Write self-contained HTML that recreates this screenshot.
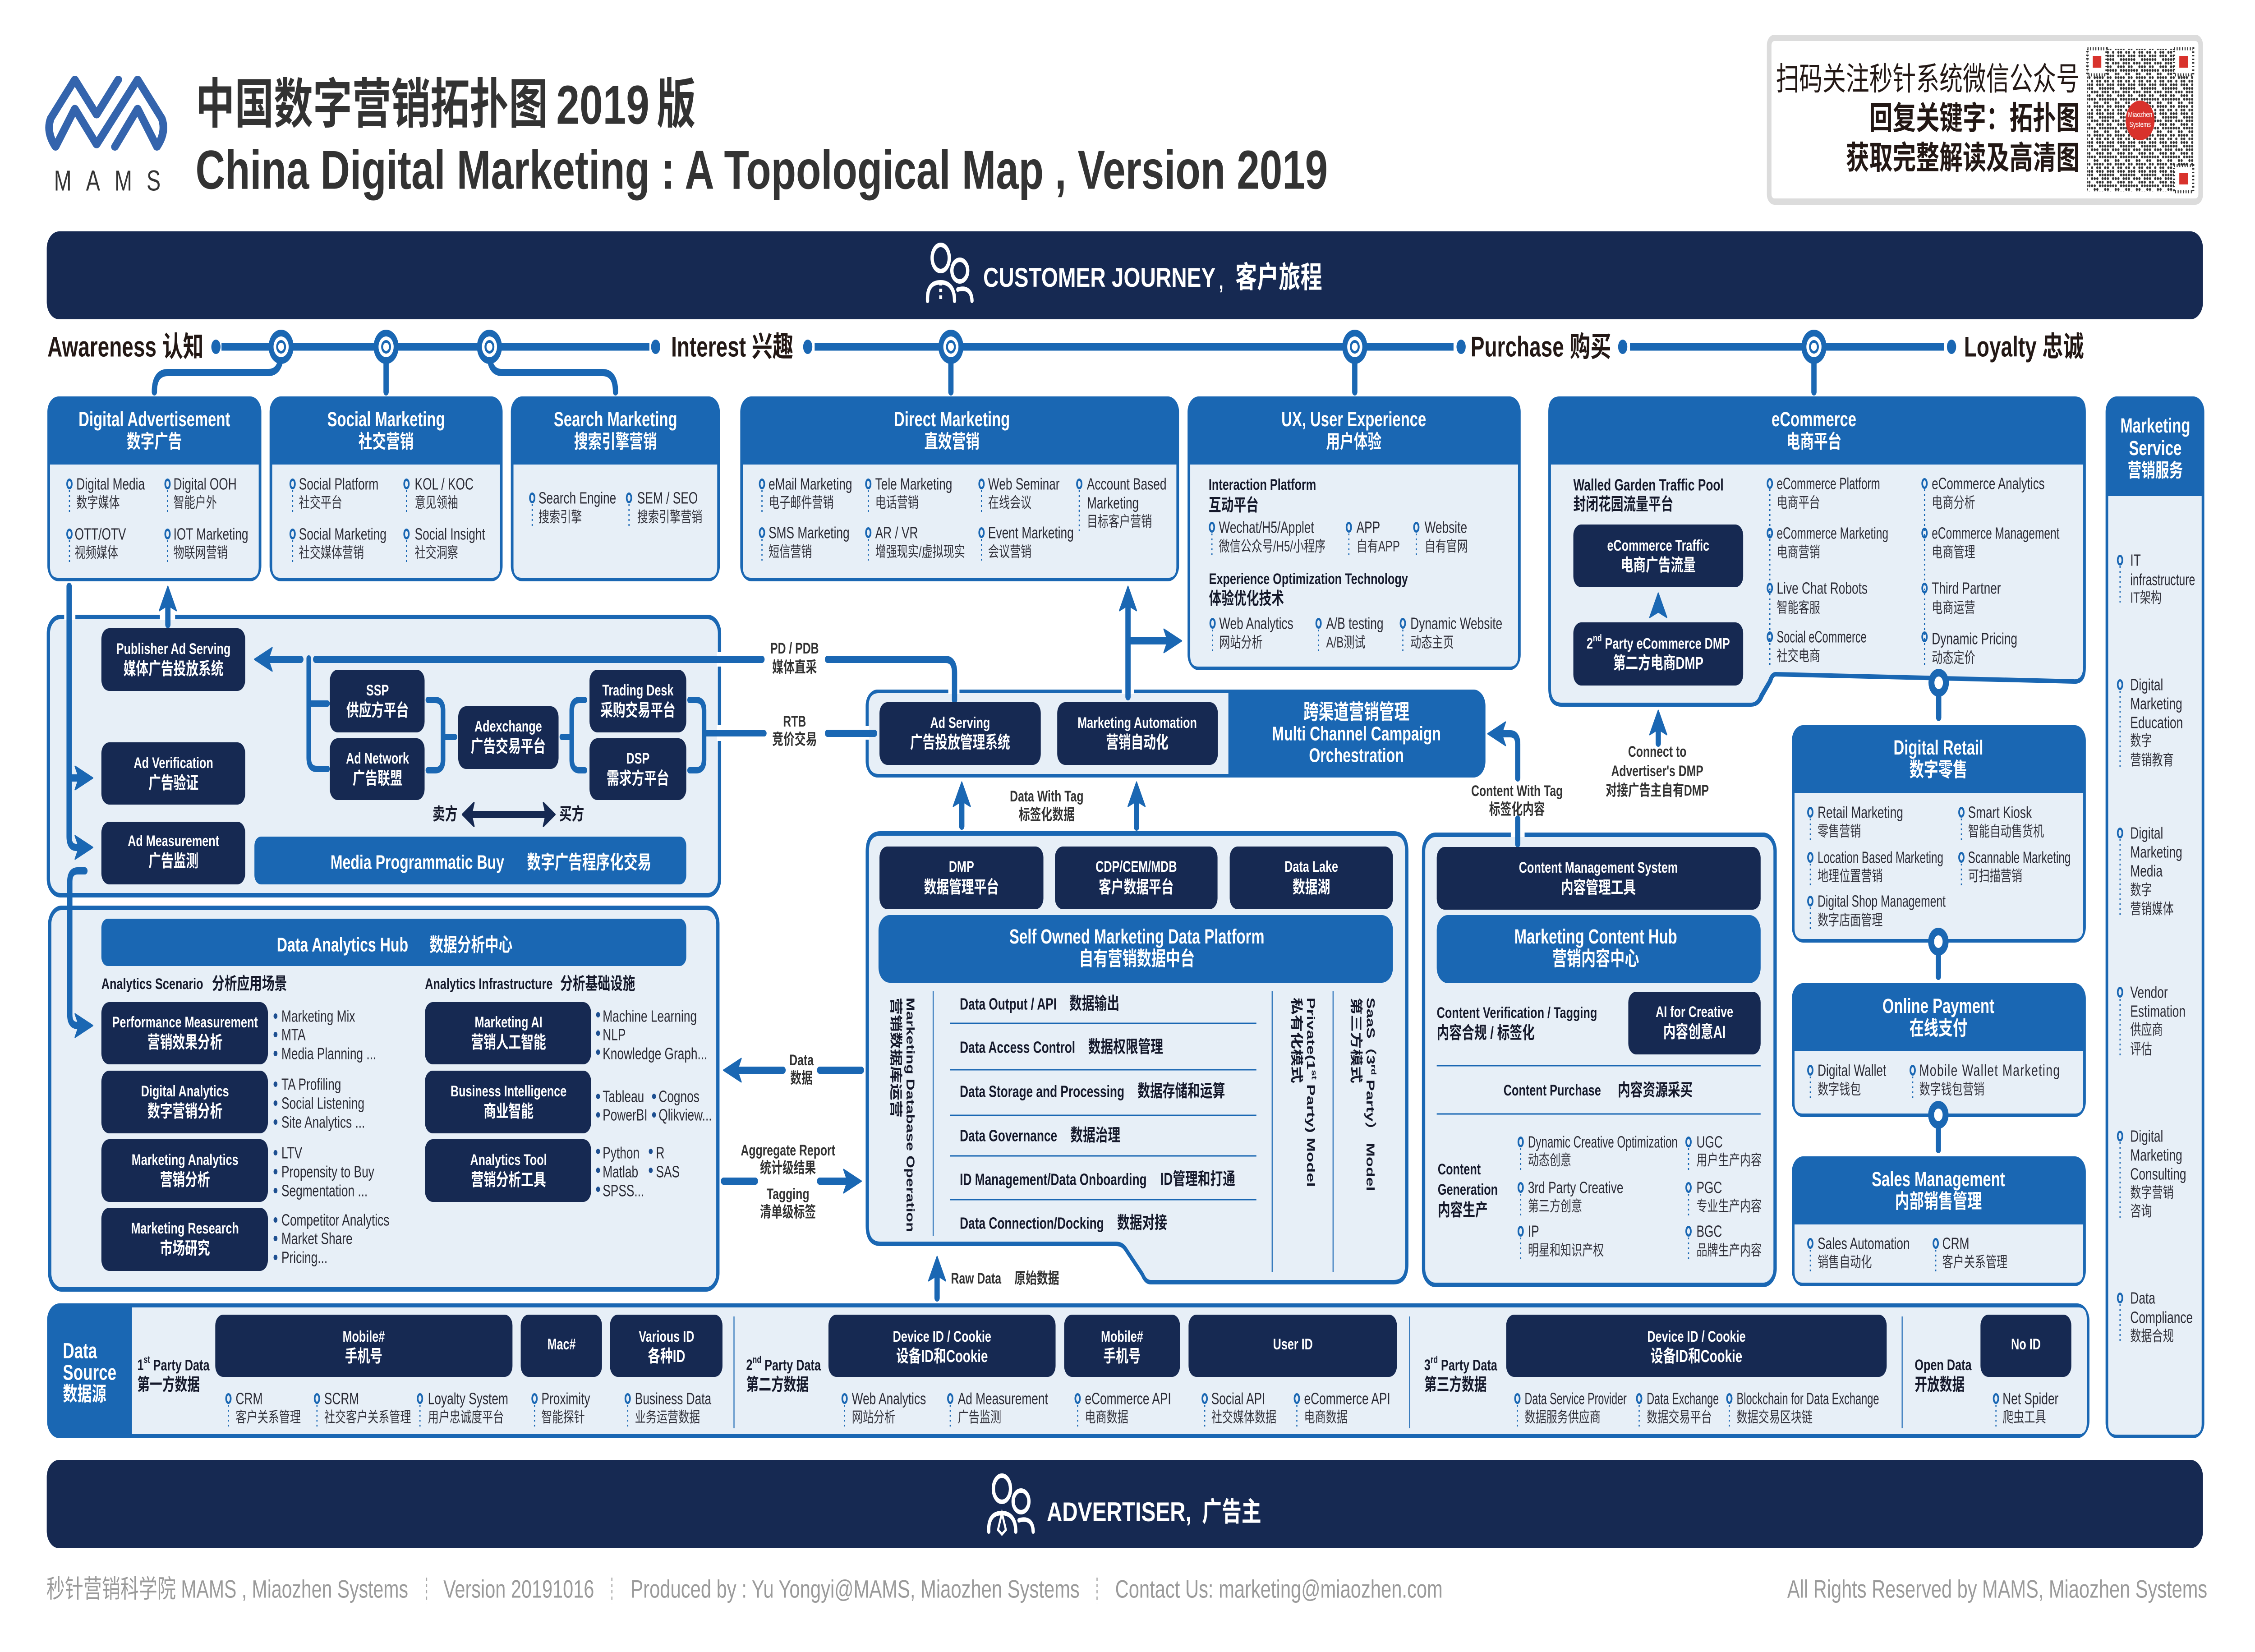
<!DOCTYPE html>
<html><head><meta charset="utf-8"><title>China Digital Marketing Topological Map 2019</title>
<style>
html,body{margin:0;padding:0;background:#fff;width:100%;height:100%;overflow:hidden}
svg{display:block;width:100vw;height:100vh}
text{font-family:"Liberation Sans","Noto Sans CJK SC",sans-serif;dominant-baseline:central;font-size:36px;fill:#2b2b35}
.c{font-size:33px;fill:#33333c}
.w{fill:#fff;font-weight:700;text-anchor:middle;font-size:34.5px}
.wc{fill:#fff;font-weight:700;text-anchor:middle;font-size:38px}
.h{fill:#fff;font-weight:700;text-anchor:middle;font-size:45px}
.hc{fill:#fff;font-weight:700;text-anchor:middle;font-size:42px}
.k{font-weight:700;fill:#15192b;font-size:34.6px}
.kc{font-weight:700;fill:#15192b;font-size:38px}
.g{font-weight:700;fill:#333;font-size:34px;text-anchor:middle}
.j{font-weight:700;fill:#231815;font-size:63px}
.f{fill:#9a9a9a;font-size:56px}
.l{fill:none;stroke:#1a67b3;stroke-width:16;stroke-linecap:round;stroke-linejoin:round}
.t{fill:none;stroke:#1a67b3;stroke-width:14;stroke-linecap:round}
.n{fill:#162952}
.b{fill:#1a67b3}
.p{fill:#e7eff7}
.q{fill:#e7eff7;stroke:#1a67b3;stroke-width:10}
.s{stroke:#1a67b3;stroke-width:3;fill:none}
.dl{stroke:#1a67b3;stroke-width:3.5;stroke-dasharray:4 7;fill:none}
.u{fill:#1d4f91}
</style></head><body>
<svg xmlns="http://www.w3.org/2000/svg" viewBox="0 0 6851 3663" preserveAspectRatio="none">
<defs>
<g id="e"><ellipse rx="7" ry="9.5" fill="none" stroke="#1a67b3" stroke-width="5"/></g>
<g id="d"><path class="dl" d="M0 14V66"/><ellipse rx="7" ry="9.5" fill="none" stroke="#1a67b3" stroke-width="5"/></g>
<polygon id="a" points="0,0 26,54 0,42 -26,54" fill="#1a67b3" stroke="#1a67b3" stroke-width="3" stroke-linejoin="round"/>
<g id="o"><circle r="38" fill="#1a67b3"/><circle r="23" fill="#fff"/><circle r="15" fill="#1a67b3"/><circle r="9" fill="#fff"/></g>
<g id="v"><circle r="31" fill="#1a67b3"/><ellipse rx="13" ry="14" fill="#fff"/></g>
<pattern id="qr" width="64" height="64" patternUnits="userSpaceOnUse">
<g fill="none" stroke="#333" stroke-width="6.5" stroke-linecap="round">
<path d="M4 4H64" stroke-dasharray="0 8 0 8 0 24"/><path d="M4 12H64" stroke-dasharray="0 16 0 8 0 8"/>
<path d="M4 20H64" stroke-dasharray="0 8 0 24 0 8"/><path d="M4 28H64" stroke-dasharray="0 8 0 8 0 8 0 16"/>
<path d="M4 36H64" stroke-dasharray="0 24 0 8"/><path d="M4 44H64" stroke-dasharray="0 8 0 16 0 8 0 8"/>
<path d="M4 52H64" stroke-dasharray="0 16 0 16 0 8"/><path d="M4 60H64" stroke-dasharray="0 8 0 8 0 16"/>
</g></pattern>
<g id="fp"><rect x="-29" y="-29" width="58" height="58" fill="#fff" stroke="#333" stroke-width="7" stroke-dasharray="3 5"/><rect x="-13" y="-13" width="26" height="26" fill="#d8322c"/></g>
<g id="ic" fill="none" stroke="#fff" stroke-width="10" stroke-linecap="round">
<ellipse cx="0" cy="0" rx="26" ry="29"/><circle cx="58" cy="28" r="24"/>
<path d="M-40 95C-42 60 -20 54 0 54C24 54 42 66 42 95"/><path d="M52 70C80 64 94 74 95 95"/>
</g>
</defs>

<!-- logo -->
<path d="M238 378L285 280L325 378Q345 340 335 305L285 205L200 372L155 280L115 378Q95 340 105 305L155 205L200 295L245 205" transform="scale(1.467 .861)" fill="none" stroke="#3464ad" stroke-width="17" stroke-linejoin="round" stroke-linecap="round" vector-effect="non-scaling-stroke"/>
<text x="164" y="400" textLength="324" lengthAdjust="spacing" style="font-size:64px;fill:#333">MAMS</text>

<!-- title -->
<text x="594" y="232" style="font-size:119px;font-weight:700;fill:#333">中国数字营销拓扑图</text>
<text x="1690" y="232" textLength="283" lengthAdjust="spacingAndGlyphs" style="font-size:122px;font-weight:700;fill:#333">2019</text>
<text x="1995" y="232" style="font-size:119px;font-weight:700;fill:#333">版</text>
<text x="594" y="376" textLength="3440" lengthAdjust="spacingAndGlyphs" style="font-size:122px;font-weight:700;fill:#333">China Digital Marketing : A Topological Map , Version 2019</text>

<!-- QR box -->
<rect x="5375" y="84" width="1311" height="363" rx="16" fill="#fff" stroke="#dcdcdc" stroke-width="14"/>
<text x="6318" y="176" style="font-size:71px;text-anchor:end;fill:#231815">扫码关注秒针系统微信公众号</text>
<text x="6318" y="263" style="font-size:71px;text-anchor:end;font-weight:700;fill:#231815">回复关键字：拓扑图</text>
<text x="6318" y="351" style="font-size:71px;text-anchor:end;font-weight:700;fill:#231815">获取完整解读及高清图</text>
<rect x="6341" y="108" width="323" height="318" fill="url(#qr)"/>
<use href="#fp" x="6371" y="137"/><use href="#fp" x="6634" y="137"/><use href="#fp" x="6634" y="396"/>
<circle cx="6502" cy="267" r="44" fill="#d8322c"/>
<text x="6502" y="255" style="font-size:17px;fill:#fff;text-anchor:middle">Miaozhen</text>
<text x="6502" y="277" style="font-size:17px;fill:#fff;text-anchor:middle">Systems</text>

<!-- customer journey bar -->
<rect x="142" y="513" width="6551" height="195" rx="38" class="n"/>
<use href="#ic" transform="translate(2858,572)"/>
<path d="M2858 625V665" stroke="#fff" stroke-width="9" stroke-dasharray="8 7" fill="none"/>
<text x="2987" y="616" textLength="706" lengthAdjust="spacingAndGlyphs" style="font-size:60px;font-weight:700;fill:#fff">CUSTOMER JOURNEY</text>
<text x="3703" y="624" style="font-size:50px;font-weight:700;fill:#fff">,</text>
<text x="3753" y="616" style="font-size:66px;font-weight:700;fill:#fff">客户旅程</text>

<!-- timeline -->
<text class="j" x="144" y="769">Awareness 认知</text>
<text class="j" x="2039" y="769">Interest 兴趣</text>
<text class="j" x="4468" y="769">Purchase 购买</text>
<text class="j" x="5967" y="769">Loyalty 忠诚</text>
<path d="M673 769H1973M2475 769H4416M4952 769H5906" stroke="#1a67b3" stroke-width="17" fill="none"/>
<ellipse cx="656" cy="769" rx="14" ry="16" class="b"/><ellipse cx="1992" cy="769" rx="14" ry="16" class="b"/>
<ellipse cx="2454" cy="769" rx="14" ry="16" class="b"/><ellipse cx="4439" cy="769" rx="14" ry="16" class="b"/>
<ellipse cx="4930" cy="769" rx="14" ry="16" class="b"/><ellipse cx="5929" cy="769" rx="14" ry="16" class="b"/>
<path class="l" d="M854 790Q850 826 815 826H510Q469 826 469 869"/>
<path class="l" d="M1173 790V869M2889 790V869M4116 790V869M5511 790V869"/>
<path class="l" d="M1487 790Q1490 826 1525 826H1830Q1870 826 1870 869"/>
<use href="#o" x="854" y="769"/><use href="#o" x="1173" y="769"/><use href="#o" x="1487" y="769"/>
<use href="#o" x="2889" y="769"/><use href="#o" x="4116" y="769"/><use href="#o" x="5511" y="769"/>

<!-- cards row -->
<rect x="144" y="879" width="650" height="410" rx="34" class="b"/><path class="p" d="M152 1030H786V1257Q786 1281 762 1281H176Q152 1281 152 1257Z"/>
<rect x="819" y="879" width="708" height="410" rx="34" class="b"/><path class="p" d="M827 1030H1519V1257Q1519 1281 1495 1281H851Q827 1281 827 1257Z"/>
<rect x="1552" y="879" width="635" height="410" rx="34" class="b"/><path class="p" d="M1560 1030H2179V1257Q2179 1281 2155 1281H1584Q1560 1281 1560 1257Z"/>
<rect x="2249" y="879" width="1333" height="410" rx="34" class="b"/><path class="p" d="M2257 1030H3574V1257Q3574 1281 3550 1281H2281Q2257 1281 2257 1257Z"/>
<rect x="3608" y="879" width="1012" height="607" rx="34" class="b"/><path class="p" d="M3616 1030H4612V1454Q4612 1478 4588 1478H3640Q3616 1478 3616 1454Z"/>
<path class="b" d="M4738 879H6303Q6337 879 6337 913V1480Q6337 1518 6300 1516L5395 1500Q5388 1500 5384 1512L5358 1545Q5346 1567 5320 1567H4744Q4704 1567 4704 1527V913Q4704 879 4738 879Z"/>
<path class="p" d="M4712 1030H6329V1476Q6329 1508 6300 1506L5395 1490Q5380 1490 5372 1508L5346 1540Q5338 1558 5320 1558H4744Q4712 1558 4712 1526Z"/>

<text class="h" x="469" y="930">Digital Advertisement</text><text class="hc" x="469" y="979">数字广告</text>
<text class="h" x="1173" y="930">Social Marketing</text><text class="hc" x="1173" y="979">社交营销</text>
<text class="h" x="1870" y="930">Search Marketing</text><text class="hc" x="1870" y="979">搜索引擎营销</text>
<text class="h" x="2892" y="930">Direct Marketing</text><text class="hc" x="2892" y="979">直效营销</text>
<text class="h" x="4113" y="930">UX, User Experience</text><text class="hc" x="4113" y="979">用户体验</text>
<text class="h" x="5511" y="930">eCommerce</text><text class="hc" x="5511" y="979">电商平台</text>

<!-- digital ad items -->
<use href="#d" x="211" y="1073"/><text x="232" y="1073">Digital Media</text><text class="c" x="232" y="1115">数字媒体</text>
<use href="#d" x="509" y="1073"/><text x="527" y="1073">Digital OOH</text><text class="c" x="527" y="1115">智能户外</text>
<use href="#d" x="211" y="1184"/><text x="227" y="1184">OTT/OTV</text><text class="c" x="227" y="1226">视频媒体</text>
<use href="#d" x="509" y="1184"/><text x="527" y="1184">IOT Marketing</text><text class="c" x="527" y="1226">物联网营销</text>
<use href="#d" x="889" y="1073"/><text x="908" y="1073">Social Platform</text><text class="c" x="908" y="1115">社交平台</text>
<use href="#d" x="1235" y="1073"/><text x="1260" y="1073">KOL / KOC</text><text class="c" x="1260" y="1115">意见领袖</text>
<use href="#d" x="889" y="1184"/><text x="908" y="1184">Social Marketing</text><text class="c" x="908" y="1226">社交媒体营销</text>
<use href="#d" x="1235" y="1184"/><text x="1260" y="1184">Social Insight</text><text class="c" x="1260" y="1226">社交洞察</text>
<use href="#d" x="1617" y="1104"/><text x="1636" y="1104">Search Engine</text><text class="c" x="1636" y="1147">搜索引擎</text>
<use href="#d" x="1911" y="1104"/><text x="1936" y="1104">SEM / SEO</text><text class="c" x="1936" y="1147">搜索引擎营销</text>
<use href="#d" x="2315" y="1073"/><text x="2335" y="1073">eMail Marketing</text><text class="c" x="2335" y="1115">电子邮件营销</text>
<use href="#d" x="2638" y="1073"/><text x="2659" y="1073">Tele Marketing</text><text class="c" x="2659" y="1115">电话营销</text>
<use href="#d" x="2982" y="1073"/><text x="3002" y="1073">Web Seminar</text><text class="c" x="3002" y="1115">在线会议</text>
<use href="#d" x="3279" y="1073"/><path class="dl" d="M3279 1130V1180"/><text x="3302" y="1073">Account Based</text><text x="3302" y="1115">Marketing</text><text class="c" x="3302" y="1157">目标客户营销</text>
<use href="#d" x="2315" y="1181"/><text x="2335" y="1181">SMS Marketing</text><text class="c" x="2335" y="1224">短信营销</text>
<use href="#d" x="2638" y="1181"/><text x="2659" y="1181">AR / VR</text><text class="c" x="2659" y="1224">增强现实/虚拟现实</text>
<use href="#d" x="2982" y="1181"/><text x="3002" y="1181">Event Marketing</text><text class="c" x="3002" y="1224">会议营销</text>
<!-- UX items -->
<text class="k" x="3672" y="1075">Interaction Platform</text><text class="kc" x="3672" y="1121">互动平台</text>
<use href="#d" x="3682" y="1169"/><text x="3703" y="1169">Wechat/H5/Applet</text><text class="c" x="3703" y="1212">微信公众号/H5/小程序</text>
<use href="#d" x="4098" y="1169"/><text x="4121" y="1169">APP</text><text class="c" x="4121" y="1212">自有APP</text>
<use href="#d" x="4303" y="1169"/><text x="4328" y="1169">Website</text><text class="c" x="4328" y="1212">自有官网</text>
<text class="k" x="3673" y="1284">Experience Optimization Technology</text><text class="kc" x="3673" y="1328">体验优化技术</text>
<use href="#d" x="3684" y="1382"/><text x="3704" y="1382">Web Analytics</text><text class="c" x="3704" y="1425">网站分析</text>
<use href="#d" x="4006" y="1382"/><text x="4029" y="1382">A/B testing</text><text class="c" x="4029" y="1425">A/B测试</text>
<use href="#d" x="4262" y="1382"/><text x="4285" y="1382">Dynamic Website</text><text class="c" x="4285" y="1425">动态主页</text>
<!-- eCommerce items -->
<text class="k" x="4780" y="1075" style="font-size:36px">Walled Garden Traffic Pool</text><text class="kc" x="4780" y="1119">封闭花园流量平台</text>
<rect x="4780" y="1163" width="516" height="139" rx="24" class="n"/><text class="w" x="5038" y="1210">eCommerce Traffic</text><text class="wc" x="5038" y="1254">电商广告流量</text>
<use href="#a" transform="translate(5038,1315)"/>
<rect x="4780" y="1380" width="516" height="140" rx="24" class="n"/>
<text class="w" x="5038" y="1427">2<tspan dy="-12" style="font-size:22px">nd</tspan><tspan dy="12"> Party eCommerce DMP</tspan></text><text class="wc" x="5038" y="1471">第二方电商DMP</text>
<path class="dl" d="M5377 1085V1480M5847 1085V1480"/>
<use href="#e" x="5377" y="1072"/><text x="5398" y="1072" textLength="314" lengthAdjust="spacingAndGlyphs">eCommerce Platform</text><text class="c" x="5398" y="1115">电商平台</text>
<use href="#e" x="5377" y="1182"/><text x="5398" y="1182" textLength="339" lengthAdjust="spacingAndGlyphs">eCommerce Marketing</text><text class="c" x="5398" y="1225">电商营销</text>
<use href="#e" x="5377" y="1304"/><text x="5398" y="1304">Live Chat Robots</text><text class="c" x="5398" y="1348">智能客服</text>
<use href="#e" x="5377" y="1412"/><text x="5398" y="1412" textLength="273" lengthAdjust="spacingAndGlyphs">Social eCommerce</text><text class="c" x="5398" y="1455">社交电商</text>
<use href="#e" x="5847" y="1072"/><text x="5869" y="1072" textLength="343" lengthAdjust="spacingAndGlyphs">eCommerce Analytics</text><text class="c" x="5869" y="1115">电商分析</text>
<use href="#e" x="5847" y="1182"/><text x="5869" y="1182" textLength="388" lengthAdjust="spacingAndGlyphs">eCommerce Management</text><text class="c" x="5869" y="1225">电商管理</text>
<use href="#e" x="5847" y="1304"/><text x="5869" y="1304">Third Partner</text><text class="c" x="5869" y="1348">电商运营</text>
<use href="#e" x="5847" y="1412"/><text x="5869" y="1416">Dynamic Pricing</text><text class="c" x="5869" y="1459">动态定价</text>

<!-- Marketing Service -->
<rect x="6397" y="879" width="300" height="2310" rx="34" class="b"/>
<path class="p" d="M6405 1100H6689V3157Q6689 3181 6665 3181H6429Q6405 3181 6405 3157Z"/>
<text class="h" x="6548" y="944">Marketing</text><text class="h" x="6548" y="994">Service</text><text class="hc" x="6548" y="1043">营销服务</text>
<path class="dl" d="M6441 1255V1340M6441 1532V1700M6441 1860V2030M6441 2215V2340M6441 2532V2700M6441 2892V2975"/>
<use href="#e" x="6441" y="1242"/><text x="6472" y="1242">IT</text><text x="6472" y="1285" textLength="197" lengthAdjust="spacingAndGlyphs">infrastructure</text><text class="c" x="6472" y="1326">IT架构</text>
<use href="#e" x="6441" y="1518"/><text x="6472" y="1518">Digital</text><text x="6472" y="1560">Marketing</text><text x="6472" y="1602">Education</text><text class="c" x="6472" y="1643">数字</text><text class="c" x="6472" y="1686">营销教育</text>
<use href="#e" x="6441" y="1847"/><text x="6472" y="1847">Digital</text><text x="6472" y="1889">Marketing</text><text x="6472" y="1931">Media</text><text class="c" x="6472" y="1974">数字</text><text class="c" x="6472" y="2016">营销媒体</text>
<use href="#e" x="6441" y="2200"/><text x="6472" y="2200">Vendor</text><text x="6472" y="2242">Estimation</text><text class="c" x="6472" y="2284">供应商</text><text class="c" x="6472" y="2327">评估</text>
<use href="#e" x="6441" y="2519"/><text x="6472" y="2519">Digital</text><text x="6472" y="2561">Marketing</text><text x="6472" y="2603">Consulting</text><text class="c" x="6472" y="2645">数字营销</text><text class="c" x="6472" y="2686">咨询</text>
<use href="#e" x="6441" y="2878"/><text x="6472" y="2878">Data</text><text x="6472" y="2921">Compliance</text><text class="c" x="6472" y="2963">数据合规</text>

<!-- Ad panel -->
<rect x="147" y="1368" width="2039" height="617" rx="36" class="q"/>
<rect x="195" y="1355" width="34" height="20" fill="#fff"/><rect x="486" y="1355" width="46" height="20" fill="#fff"/>
<rect x="2178" y="1446" width="16" height="32" fill="#fff"/><rect x="2178" y="1607" width="16" height="36" fill="#fff"/>
<!-- Analytics panel -->
<rect x="151" y="2013" width="2030" height="846" rx="36" class="q"/>

<!-- left connectors -->
<path class="l" d="M210 1300V1855Q210 1879 232 1879H240"/>
<path class="l" d="M212 1725H240"/>
<path class="l" d="M258 1931H236Q212 1931 212 1955V2250Q212 2274 236 2274H240"/>
<use href="#a" transform="translate(282,1725) rotate(90)"/><use href="#a" transform="translate(282,1879) rotate(90)"/><use href="#a" transform="translate(282,2274) rotate(90)"/>
<path class="l" d="M510 1345V1385"/><use href="#a" transform="translate(510,1300)"/>

<!-- Ad panel boxes -->
<rect x="308" y="1393" width="437" height="139" rx="24" class="n"/><text class="w" x="527" y="1439">Publisher Ad Serving</text><text class="wc" x="527" y="1484">媒体广告投放系统</text>
<rect x="308" y="1646" width="437" height="138" rx="24" class="n"/><text class="w" x="527" y="1692">Ad Verification</text><text class="wc" x="527" y="1737">广告验证</text>
<rect x="308" y="1822" width="437" height="139" rx="24" class="n"/><text class="w" x="527" y="1865">Ad Measurement</text><text class="wc" x="527" y="1910">广告监测</text>
<rect x="1002" y="1485" width="288" height="139" rx="24" class="n"/><text class="w" x="1147" y="1531">SSP</text><text class="wc" x="1147" y="1576">供应方平台</text>
<rect x="1002" y="1637" width="288" height="137" rx="24" class="n"/><text class="w" x="1147" y="1682">Ad Network</text><text class="wc" x="1147" y="1727">广告联盟</text>
<rect x="1392" y="1566" width="305" height="139" rx="24" class="n"/><text class="w" x="1544" y="1611">Adexchange</text><text class="wc" x="1544" y="1656">广告交易平台</text>
<rect x="1791" y="1485" width="294" height="139" rx="24" class="n"/><text class="w" x="1938" y="1531">Trading Desk</text><text class="wc" x="1938" y="1576">采购交易平台</text>
<rect x="1791" y="1637" width="294" height="137" rx="24" class="n"/><text class="w" x="1938" y="1682">DSP</text><text class="wc" x="1938" y="1727">需求方平台</text>
<text class="kc" x="1352" y="1806" style="text-anchor:middle">卖方</text><text class="kc" x="1737" y="1806" style="text-anchor:middle">买方</text>
<path d="M1430 1806H1660" stroke="#162952" stroke-width="16" fill="none"/>
<polygon points="1405,1806 1440,1780 1432,1806 1440,1832" class="n" stroke="#162952" stroke-width="4" stroke-linejoin="round"/>
<polygon points="1686,1806 1651,1780 1659,1806 1651,1832" class="n" stroke="#162952" stroke-width="4" stroke-linejoin="round"/>
<rect x="773" y="1855" width="1312" height="106" rx="20" class="b"/>
<text x="1004" y="1912" style="font-size:44px;font-weight:700;fill:#fff">Media Programmatic Buy</text><text x="1601" y="1912" style="font-size:42px;font-weight:700;fill:#fff">数字广告程序化交易</text>

<!-- Ad panel connectors -->
<path class="l" d="M959 1462H2315"/><path class="l" d="M814 1462H914"/><use href="#a" transform="translate(773,1462) rotate(-90)"/>
<path class="t" d="M938 1460V1680Q938 1705 962 1705H995M938 1560H995"/>
<path class="t" d="M1300 1552H1322Q1346 1552 1346 1576V1684Q1346 1708 1322 1708H1300M1346 1634H1382"/>
<path class="t" d="M1777 1552H1761Q1737 1552 1737 1576V1684Q1737 1708 1761 1708H1777M1737 1634H1707"/>
<path class="t" d="M2095 1552H2115Q2139 1552 2139 1576V1684Q2139 1708 2115 1708H2095M2139 1626H2322"/>

<!-- Analytics panel content -->
<rect x="308" y="2037" width="1777" height="105" rx="20" class="b"/>
<text x="841" y="2095" style="font-size:44px;font-weight:700;fill:#fff">Data Analytics Hub</text><text x="1305" y="2095" style="font-size:42px;font-weight:700;fill:#fff">数据分析中心</text>
<text class="k" x="308" y="2182">Analytics Scenario</text><text class="kc" x="644" y="2182">分析应用场景</text>
<text class="k" x="1291" y="2182">Analytics Infrastructure</text><text class="kc" x="1702" y="2182">分析基础设施</text>
<rect x="308" y="2222" width="506" height="138" rx="24" class="n"/><text class="w" x="562" y="2267">Performance Measurement</text><text class="wc" x="562" y="2312">营销效果分析</text>
<rect x="308" y="2374" width="506" height="139" rx="24" class="n"/><text class="w" x="562" y="2420">Digital Analytics</text><text class="wc" x="562" y="2465">数字营销分析</text>
<rect x="308" y="2526" width="506" height="139" rx="24" class="n"/><text class="w" x="562" y="2572">Marketing Analytics</text><text class="wc" x="562" y="2617">营销分析</text>
<rect x="308" y="2678" width="506" height="140" rx="24" class="n"/><text class="w" x="562" y="2724">Marketing Research</text><text class="wc" x="562" y="2769">市场研究</text>
<rect x="1291" y="2222" width="505" height="138" rx="24" class="n"/><text class="w" x="1545" y="2267">Marketing AI</text><text class="wc" x="1545" y="2312">营销人工智能</text>
<rect x="1291" y="2374" width="505" height="139" rx="24" class="n"/><text class="w" x="1545" y="2420">Business Intelligence</text><text class="wc" x="1545" y="2465">商业智能</text>
<rect x="1291" y="2526" width="505" height="139" rx="24" class="n"/><text class="w" x="1545" y="2572">Analytics Tool</text><text class="wc" x="1545" y="2617">营销分析工具</text>
<g class="u">
<circle cx="837" cy="2253" r="6"/><circle cx="837" cy="2294" r="6"/><circle cx="837" cy="2336" r="6"/>
<circle cx="837" cy="2404" r="6"/><circle cx="837" cy="2446" r="6"/><circle cx="837" cy="2488" r="6"/>
<circle cx="837" cy="2556" r="6"/><circle cx="837" cy="2598" r="6"/><circle cx="837" cy="2640" r="6"/>
<circle cx="837" cy="2705" r="6"/><circle cx="837" cy="2746" r="6"/><circle cx="837" cy="2788" r="6"/>
<circle cx="1817" cy="2250" r="6"/><circle cx="1817" cy="2291" r="6"/><circle cx="1817" cy="2333" r="6"/>
<circle cx="1817" cy="2431" r="6"/><circle cx="1817" cy="2472" r="6"/><circle cx="1987" cy="2431" r="6"/><circle cx="1987" cy="2472" r="6"/>
<circle cx="1817" cy="2553" r="6"/><circle cx="1817" cy="2595" r="6"/><circle cx="1817" cy="2637" r="6"/><circle cx="1977" cy="2553" r="6"/><circle cx="1977" cy="2595" r="6"/>
</g>
<text x="855" y="2253">Marketing Mix</text><text x="855" y="2294">MTA</text><text x="855" y="2336">Media Planning ...</text>
<text x="855" y="2404">TA Profiling</text><text x="855" y="2446">Social Listening</text><text x="855" y="2488">Site Analytics ...</text>
<text x="855" y="2556">LTV</text><text x="855" y="2598">Propensity to Buy</text><text x="855" y="2640">Segmentation ...</text>
<text x="855" y="2705">Competitor Analytics</text><text x="855" y="2746">Market Share</text><text x="855" y="2788">Pricing...</text>
<text x="1831" y="2253">Machine Learning</text><text x="1831" y="2294">NLP</text><text x="1831" y="2336">Knowledge Graph...</text>
<text x="1831" y="2431">Tableau</text><text x="1831" y="2472">PowerBI</text><text x="2001" y="2431">Cognos</text><text x="2001" y="2472">Qlikview...</text>
<text x="1831" y="2556">Python</text><text x="1831" y="2598">Matlab</text><text x="1831" y="2640">SPSS...</text><text x="1993" y="2556">R</text><text x="1993" y="2598">SAS</text>

<!-- central connector labels -->
<text class="g" x="2414" y="1438">PD / PDB</text><text class="g" x="2414" y="1480">媒体直采</text>
<text class="g" x="2414" y="1600">RTB</text><text class="g" x="2414" y="1640">竞价交易</text>
<text class="g" x="3180" y="1766">Data With Tag</text><text class="g" x="3180" y="1807">标签化数据</text>
<text class="g" x="2435" y="2351">Data</text><text class="g" x="2435" y="2391">数据</text>
<text class="g" x="2394" y="2551">Aggregate Report</text><text class="g" x="2394" y="2590">统计级结果</text>
<text class="g" x="2394" y="2648">Tagging</text><text class="g" x="2394" y="2688">清单级标签</text>

<!-- Multi channel -->
<rect x="2630" y="1529" width="1883" height="195" rx="36" class="b"/>
<path class="p" d="M2669 1537H3732V1716H2669Q2639 1716 2639 1686V1567Q2639 1537 2669 1537Z"/>
<rect x="2881" y="1526" width="34" height="13" fill="#fff"/><rect x="3408" y="1526" width="37" height="13" fill="#fff"/>
<rect x="2628" y="1610" width="13" height="30" fill="#fff"/>
<path class="l" d="M2514 1462H2872Q2900 1462 2900 1492V1552"/>
<path class="l" d="M2514 1626H2657"/>
<rect x="2672" y="1557" width="490" height="139" rx="24" class="n"/><text class="w" x="2917" y="1603">Ad Serving</text><text class="wc" x="2917" y="1647">广告投放管理系统</text>
<rect x="3212" y="1557" width="488" height="139" rx="24" class="n"/><text class="w" x="3455" y="1603">Marketing Automation</text><text class="wc" x="3455" y="1647">营销自动化</text>
<text class="hc" x="4121" y="1579" style="font-size:46px">跨渠道营销管理</text><text class="h" x="4121" y="1627" style="font-size:44px">Multi Channel Campaign</text><text class="h" x="4121" y="1675" style="font-size:44px">Orchestration</text>
<path class="l" d="M3427 1345V1545"/><use href="#a" transform="translate(3427,1300)"/>
<path class="l" d="M3435 1421H3545"/><use href="#a" transform="translate(3590,1421) rotate(90)"/>
<path class="l" d="M2922 1780V1832M3453 1780V1834"/><use href="#a" transform="translate(2922,1734)"/><use href="#a" transform="translate(3453,1734)"/>
<path class="l" d="M4611 1725V1650Q4611 1627 4588 1627H4560"/><use href="#a" transform="translate(4520,1627) rotate(-90)"/>

<!-- arrows between analytics & platform -->
<path class="l" d="M2240 2373H2379M2490 2373H2617"/><use href="#a" transform="translate(2198,2373) rotate(-90)"/>
<path class="l" d="M2198 2619H2295M2490 2619H2575"/><use href="#a" transform="translate(2617,2619) rotate(90)"/>
<path class="l" d="M2847 2830V2878"/><use href="#a" transform="translate(2847,2786)"/>
<text class="k" x="2889" y="2835" style="font-size:34px;fill:#333">Raw Data</text><text class="k" x="3082" y="2835" style="font-size:34px;fill:#333">原始数据</text>

<!-- Data platform -->
<path class="q" d="M2675 1848H4234Q4274 1848 4274 1888V2803Q4274 2843 4234 2843H3496Q3480 2843 3471 2826L3420 2770Q3410 2758 3390 2758H2675Q2635 2758 2635 2718V1888Q2635 1848 2675 1848Z"/>
<rect x="2672" y="1877" width="498" height="139" rx="24" class="n"/><text class="w" x="2921" y="1922">DMP</text><text class="wc" x="2921" y="1968">数据管理平台</text>
<rect x="3205" y="1877" width="494" height="139" rx="24" class="n"/><text class="w" x="3452" y="1922">CDP/CEM/MDB</text><text class="wc" x="3452" y="1968">客户数据平台</text>
<rect x="3736" y="1877" width="496" height="139" rx="24" class="n"/><text class="w" x="3984" y="1922">Data Lake</text><text class="wc" x="3984" y="1968">数据湖</text>
<rect x="2669" y="2029" width="1563" height="150" rx="34" class="b"/>
<text class="h" x="3454" y="2077">Self Owned Marketing Data Platform</text><text class="hc" x="3454" y="2126" style="font-size:44px">自有营销数据中台</text>
<path class="s" d="M2835 2198V2741M3865 2198V2821M4050 2198V2821M2887 2269H3817M2887 2372H3817M2887 2473H3817M2887 2563H3817M2887 2660H3817"/>
<text class="k" transform="translate(2765,2212) rotate(90)" textLength="520" lengthAdjust="spacingAndGlyphs">Marketing Database Operation</text>
<text class="kc" transform="translate(2721,2212) rotate(90)">营销数据库运营</text>
<text class="k" transform="translate(3982,2212) rotate(90)" textLength="420" lengthAdjust="spacingAndGlyphs">Private(1<tspan dy="-10" style="font-size:22px">st</tspan><tspan dy="10"> Party) Model</tspan></text>
<text class="kc" transform="translate(3938,2212) rotate(90)">私有化模式</text>
<text class="k" transform="translate(4163,2212) rotate(90)" textLength="429" lengthAdjust="spacingAndGlyphs">SaaS（3<tspan dy="-10" style="font-size:22px">rd</tspan><tspan dy="10"> Party） Model</tspan></text>
<text class="kc" transform="translate(4119,2212) rotate(90)">第三方模式</text>
<text class="k" x="2916" y="2226" style="font-size:36px">Data Output / API</text><text class="kc" x="3249" y="2226">数据输出</text>
<text class="k" x="2916" y="2322" style="font-size:36px">Data Access Control</text><text class="kc" x="3306" y="2322">数据权限管理</text>
<text class="k" x="2916" y="2420" style="font-size:36px">Data Storage and Processing</text><text class="kc" x="3456" y="2420">数据存储和运算</text>
<text class="k" x="2916" y="2518" style="font-size:36px">Data Governance</text><text class="kc" x="3252" y="2518">数据治理</text>
<text class="k" x="2916" y="2615" style="font-size:36px">ID Management/Data Onboarding</text><text class="kc" x="3525" y="2615">ID管理和打通</text>
<text class="k" x="2916" y="2712" style="font-size:36px">Data Connection/Docking</text><text class="kc" x="3394" y="2712">数据对接</text>

<!-- Content panel -->
<rect x="4325" y="1851" width="1068" height="998" rx="36" class="q"/>
<rect x="4590" y="1842" width="42" height="14" fill="#fff"/>
<path class="l" d="M4611 1816V1871"/>
<text class="g" x="4609" y="1754">Content With Tag</text><text class="g" x="4609" y="1795">标签化内容</text>
<path class="l" d="M5038 1620V1648"/><use href="#a" transform="translate(5038,1575)"/>
<text class="g" x="5035" y="1667">Connect to</text><text class="g" x="5035" y="1710">Advertiser's DMP</text><text class="g" x="5035" y="1753">对接广告主自有DMP</text>
<rect x="4365" y="1878" width="984" height="139" rx="24" class="n"/><text class="w" x="4856" y="1924">Content Management System</text><text class="wc" x="4856" y="1969">内容管理工具</text>
<rect x="4365" y="2029" width="984" height="151" rx="34" class="b"/><text class="h" x="4848" y="2077">Marketing Content Hub</text><text class="hc" x="4848" y="2126" style="font-size:44px">营销内容中心</text>
<text class="k" x="4365" y="2246">Content Verification / Tagging</text><text class="kc" x="4365" y="2291">内容合规 / 标签化</text>
<rect x="4947" y="2199" width="402" height="139" rx="24" class="n"/><text class="w" x="5148" y="2244">AI for Creative</text><text class="wc" x="5148" y="2289">内容创意AI</text>
<path class="s" d="M4365 2363H5349M4365 2470H5349"/>
<text class="k" x="4568" y="2418">Content Purchase</text><text class="kc" x="4915" y="2418">内容资源采买</text>
<text class="k" x="4368" y="2593">Content</text><text class="k" x="4368" y="2638">Generation</text><text class="kc" x="4368" y="2684">内容生产</text>
<use href="#d" x="4620" y="2532"/><text x="4642" y="2532" textLength="455" lengthAdjust="spacingAndGlyphs">Dynamic Creative Optimization</text><text class="c" x="4642" y="2573">动态创意</text>
<use href="#d" x="4620" y="2633"/><text x="4642" y="2633">3rd Party Creative</text><text class="c" x="4642" y="2675">第三方创意</text>
<use href="#d" x="4620" y="2730"/><text x="4642" y="2730">IP</text><text class="c" x="4642" y="2773">明星和知识产权</text>
<use href="#d" x="5130" y="2532"/><text x="5154" y="2532">UGC</text><text class="c" x="5154" y="2573">用户生产内容</text>
<use href="#d" x="5130" y="2633"/><text x="5154" y="2633">PGC</text><text class="c" x="5154" y="2675">专业生产内容</text>
<use href="#d" x="5130" y="2730"/><text x="5154" y="2730">BGC</text><text class="c" x="5154" y="2773">品牌生产内容</text>

<!-- Retail / payment / sales -->
<rect x="5444" y="1608" width="893" height="482" rx="34" class="b"/><path class="p" d="M5452 1758H6329V2058Q6329 2082 6305 2082H5476Q5452 2082 5452 2058Z"/>
<text class="h" x="5889" y="1658">Digital Retail</text><text class="hc" x="5889" y="1707" style="font-size:44px">数字零售</text>
<use href="#d" x="5500" y="1801"/><text x="5522" y="1801">Retail Marketing</text><text class="c" x="5522" y="1844">零售营销</text>
<use href="#d" x="5959" y="1801"/><text x="5979" y="1801">Smart Kiosk</text><text class="c" x="5979" y="1844">智能自动售货机</text>
<use href="#d" x="5500" y="1901"/><text x="5522" y="1901" textLength="382" lengthAdjust="spacingAndGlyphs">Location Based Marketing</text><text class="c" x="5522" y="1943">地理位置营销</text>
<use href="#d" x="5959" y="1901"/><text x="5979" y="1901" textLength="312" lengthAdjust="spacingAndGlyphs">Scannable Marketing</text><text class="c" x="5979" y="1943">可扫描营销</text>
<use href="#d" x="5500" y="1998"/><text x="5522" y="1998" textLength="389" lengthAdjust="spacingAndGlyphs">Digital Shop Management</text><text class="c" x="5522" y="2041">数字店面管理</text>

<rect x="5444" y="2180" width="893" height="297" rx="34" class="b"/><path class="p" d="M5452 2330H6329V2445Q6329 2469 6305 2469H5476Q5452 2469 5452 2445Z"/>
<text class="h" x="5889" y="2231">Online Payment</text><text class="hc" x="5889" y="2280" style="font-size:44px">在线支付</text>
<use href="#d" x="5500" y="2373"/><text x="5522" y="2373">Digital Wallet</text><text class="c" x="5522" y="2416">数字钱包</text>
<use href="#d" x="5811" y="2373"/><text x="5831" y="2373" letter-spacing="2">Mobile Wallet Marketing</text><text class="c" x="5831" y="2416">数字钱包营销</text>

<rect x="5444" y="2564" width="893" height="288" rx="34" class="b"/><path class="p" d="M5452 2715H6329V2820Q6329 2844 6305 2844H5476Q5452 2844 5452 2820Z"/>
<text class="h" x="5889" y="2615">Sales Management</text><text class="hc" x="5889" y="2664" style="font-size:44px">内部销售管理</text>
<use href="#d" x="5500" y="2757"/><text x="5522" y="2757">Sales Automation</text><text class="c" x="5522" y="2799">销售自动化</text>
<use href="#d" x="5881" y="2757"/><text x="5901" y="2757">CRM</text><text class="c" x="5901" y="2799">客户关系管理</text>

<path class="l" d="M5890 1514V1591M5889 2088V2165M5889 2472V2549"/>
<use href="#v" x="5890" y="1514"/><use href="#v" x="5889" y="2088"/><use href="#v" x="5889" y="2472"/>

<!-- Data source -->
<rect x="143" y="2890" width="6205" height="299" rx="38" class="b"/>
<path class="p" d="M401 2899H6316Q6340 2899 6340 2925V3154Q6340 3180 6316 3180H401Z"/>
<text x="191" y="2995" style="font-size:48px;font-weight:700;fill:#fff">Data</text><text x="191" y="3043" style="font-size:48px;font-weight:700;fill:#fff">Source</text><text x="191" y="3091" style="font-size:44px;font-weight:700;fill:#fff">数据源</text>
<text class="k" x="417" y="3027">1<tspan dy="-12" style="font-size:22px">st</tspan><tspan dy="12"> Party Data</tspan></text><text class="kc" x="417" y="3071">第一方数据</text>
<text class="k" x="2267" y="3027">2<tspan dy="-12" style="font-size:22px">nd</tspan><tspan dy="12"> Party Data</tspan></text><text class="kc" x="2267" y="3071">第二方数据</text>
<text class="k" x="4327" y="3027">3<tspan dy="-12" style="font-size:22px">rd</tspan><tspan dy="12"> Party Data</tspan></text><text class="kc" x="4327" y="3071">第三方数据</text>
<text class="k" x="5817" y="3027">Open Data</text><text class="kc" x="5817" y="3071">开放数据</text>
<path class="s" d="M2230 2919V3167M4283 2919V3167M5779 2919V3167"/>
<rect x="654" y="2915" width="903" height="138" rx="24" class="n"/><text class="w" x="1105" y="2964">Mobile#</text><text class="wc" x="1105" y="3008">手机号</text>
<rect x="1582" y="2915" width="247" height="138" rx="24" class="n"/><text class="w" x="1706" y="2981">Mac#</text>
<rect x="1853" y="2915" width="342" height="138" rx="24" class="n"/><text class="w" x="2025" y="2964">Various ID</text><text class="wc" x="2025" y="3008">各种ID</text>
<rect x="2517" y="2915" width="690" height="138" rx="24" class="n"/><text class="w" x="2862" y="2964">Device ID / Cookie</text><text class="wc" x="2862" y="3008">设备ID和Cookie</text>
<rect x="3233" y="2915" width="352" height="138" rx="24" class="n"/><text class="w" x="3409" y="2964">Mobile#</text><text class="wc" x="3409" y="3008">手机号</text>
<rect x="3611" y="2915" width="633" height="138" rx="24" class="n"/><text class="w" x="3928" y="2981">User ID</text>
<rect x="4576" y="2915" width="1156" height="138" rx="24" class="n"/><text class="w" x="5154" y="2964">Device ID / Cookie</text><text class="wc" x="5154" y="3008">设备ID和Cookie</text>
<rect x="6017" y="2915" width="276" height="138" rx="24" class="n"/><text class="w" x="6155" y="2981">No ID</text>

<use href="#d" x="694" y="3101"/><text x="716" y="3101">CRM</text><text class="c" x="716" y="3143">客户关系管理</text>
<use href="#d" x="963" y="3101"/><text x="985" y="3101">SCRM</text><text class="c" x="985" y="3143">社交客户关系管理</text>
<use href="#d" x="1276" y="3101"/><text x="1300" y="3101">Loyalty System</text><text class="c" x="1300" y="3143">用户忠诚度平台</text>
<use href="#d" x="1624" y="3101"/><text x="1645" y="3101">Proximity</text><text class="c" x="1645" y="3143">智能探针</text>
<use href="#d" x="1907" y="3101"/><text x="1929" y="3101">Business Data</text><text class="c" x="1929" y="3143">业务运营数据</text>
<use href="#d" x="2566" y="3101"/><text x="2588" y="3101">Web Analytics</text><text class="c" x="2588" y="3143">网站分析</text>
<use href="#d" x="2887" y="3101"/><text x="2910" y="3101">Ad Measurement</text><text class="c" x="2910" y="3143">广告监测</text>
<use href="#d" x="3274" y="3101"/><text x="3296" y="3101">eCommerce API</text><text class="c" x="3296" y="3143">电商数据</text>
<use href="#d" x="3660" y="3101"/><text x="3680" y="3101">Social API</text><text class="c" x="3680" y="3143">社交媒体数据</text>
<use href="#d" x="3940" y="3101"/><text x="3962" y="3101">eCommerce API</text><text class="c" x="3962" y="3143">电商数据</text>
<use href="#d" x="4610" y="3101"/><text x="4632" y="3101" textLength="310" lengthAdjust="spacingAndGlyphs">Data Service Provider</text><text class="c" x="4632" y="3143">数据服务供应商</text>
<use href="#d" x="4980" y="3101"/><text x="5003" y="3101" textLength="219" lengthAdjust="spacingAndGlyphs">Data Exchange</text><text class="c" x="5003" y="3143">数据交易平台</text>
<use href="#d" x="5254" y="3101"/><text x="5276" y="3101" textLength="433" lengthAdjust="spacingAndGlyphs">Blockchain for Data Exchange</text><text class="c" x="5276" y="3143">数据交易区块链</text>
<use href="#d" x="6064" y="3101"/><text x="6084" y="3101">Net Spider</text><text class="c" x="6084" y="3143">爬虫工具</text>

<!-- Advertiser -->
<rect x="142" y="3237" width="6551" height="196" rx="38" class="n"/>
<use href="#ic" transform="translate(3044,3301)"/>
<polygon points="3044,3355 3056,3392 3044,3402 3032,3392" fill="none" stroke="#fff" stroke-width="6"/>
<text x="3180" y="3353" textLength="440" lengthAdjust="spacingAndGlyphs" style="font-size:60px;font-weight:700;fill:#fff">ADVERTISER,</text>
<text x="3652" y="3353" style="font-size:60px;font-weight:700;fill:#fff">广告主</text>

<!-- footer -->
<text class="f" x="141" y="3524" textLength="1099" lengthAdjust="spacingAndGlyphs">秒针营销科学院 MAMS , Miaozhen Systems</text>
<text class="f" x="1347" y="3524" textLength="458" lengthAdjust="spacingAndGlyphs">Version 20191016</text>
<text class="f" x="1916" y="3524" textLength="1364" lengthAdjust="spacingAndGlyphs">Produced by : Yu Yongyi@MAMS, Miaozhen Systems</text>
<text class="f" x="3388" y="3524" textLength="995" lengthAdjust="spacingAndGlyphs">Contact Us: marketing@miaozhen.com</text>
<text class="f" x="5430" y="3524" textLength="1276" lengthAdjust="spacingAndGlyphs">All Rights Reserved by MAMS, Miaozhen Systems</text>
<path d="M1296 3498V3555M1859 3498V3555M3333 3498V3555" stroke="#aaa" stroke-width="3.5" stroke-dasharray="7 7" fill="none"/>
</svg>
</body></html>
